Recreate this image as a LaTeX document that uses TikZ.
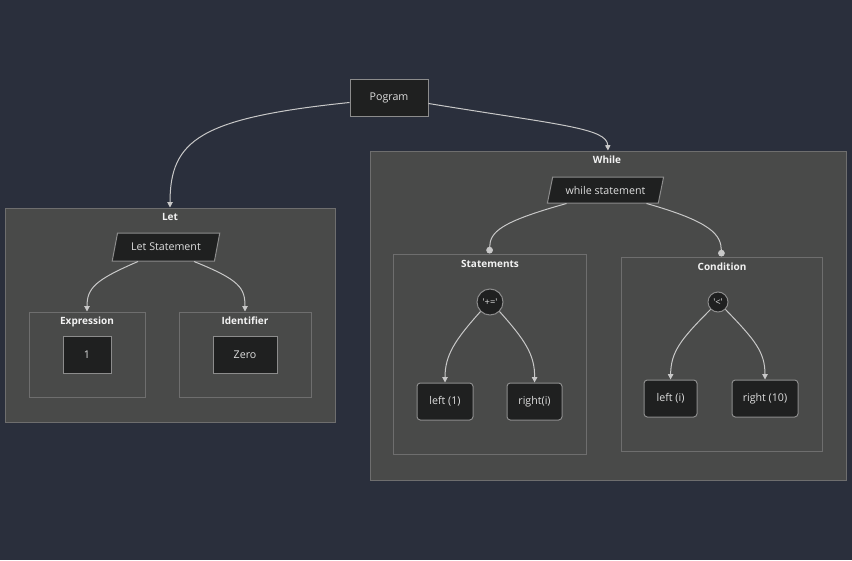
\documentclass[tikz,border=0pt]{standalone}
\usepackage{fontspec}
\setmainfont{Open Sans}
\usetikzlibrary{arrows.meta,shapes.geometric,fit,calc}
\definecolor{bgc}{RGB}{42,47,60}
\definecolor{clfill}{RGB}{73,74,73}
\definecolor{cldraw}{RGB}{110,110,110}
\definecolor{ndfill}{RGB}{31,32,32}
\definecolor{nddraw}{RGB}{140,140,140}
\definecolor{edgec}{RGB}{200,200,200}
\definecolor{txtc}{RGB}{222,222,222}
\definecolor{ttlc}{RGB}{242,242,242}
\tikzset{
  cluster/.style={draw=cldraw,fill=clfill,line width=0.75pt,inner sep=0pt},
  ctitle/.style={text=ttlc,font=\fontsize{7.5}{9}\selectfont\bfseries,inner sep=0pt,anchor=base},
  box/.style={draw=nddraw,fill=ndfill,line width=0.75pt,text=txtc,font=\fontsize{8}{9.5}\selectfont,minimum height=27.75pt,inner sep=0pt},
  rbox/.style={box,rounded corners=2.5pt},
  para/.style={draw=nddraw,fill=ndfill,line width=0.75pt,text=txtc,font=\fontsize{8}{9.5}\selectfont,trapezium,trapezium left angle=64,trapezium right angle=116,trapezium stretches=true,inner sep=0pt},
  circ/.style={circle,draw=nddraw,fill=ndfill,line width=0.75pt,text=txtc,font=\fontsize{7}{8}\selectfont,inner sep=0pt},
  edge/.style={draw=edgec,line width=0.75pt,-{Triangle[width=4pt,length=4pt]}},
  dotedge/.style={draw=edgec,line width=0.75pt,-{Circle[width=5pt,length=5pt]}}
}
\begin{document}
\begin{tikzpicture}[x=0.75pt,y=-0.75pt]
\fill[bgc] (0,0) rectangle (852,560);
\useasboundingbox (0,0) rectangle (852,560);
% clusters
\node[cluster,fit={(5,208) (335,422)}] (let) {};
\node[ctitle] (lettitle) at (170,220) {Let};
\node[cluster,fit={(29,312) (145,397)}] (expression) {};
\node[ctitle] (exprtitle) at (87,324) {Expression};
\node[cluster,fit={(179,312) (311,397)}] (identifier) {};
\node[ctitle] (idtitle) at (245,324) {Identifier};
\node[cluster,fit={(370,151) (846,480)}] (while) {};
\node[ctitle] (whiletitle) at (607,163) {While};
\node[cluster,fit={(393,254) (586,454)}] (statements) {};
\node[ctitle] (sttitle) at (490,267) {Statements};
\node[cluster,fit={(621,257) (822,451)}] (condition) {};
\node[ctitle] (condtitle) at (722,270) {Condition};
% nodes
\node[box,minimum width=58.5pt] (pogram) at (389,97.5) {Pogram};
\node[para,minimum width=81pt,minimum height=21pt] (letstmt) at (166,247) {Let Statement};
\node[box,minimum width=36pt] (one) at (87,354.5) {1};
\node[box,minimum width=48pt] (zero) at (245,354.5) {Zero};
\node[para,minimum width=87.75pt,minimum height=19.5pt] (whilestmt) at (605.5,190) {while statement};
\node[circ,minimum size=19.5pt] (pluseq) at (490,302) {\textquotesingle+=\textquotesingle};
\node[rbox,minimum width=42pt] (left1) at (445,401.5) {left (1)};
\node[rbox,minimum width=41.25pt] (righti) at (534.5,401.5) {right(i)};
\node[circ,minimum size=15pt] (lt) at (718,302) {\textquotesingle<\textquotesingle};
\node[rbox,minimum width=39.75pt] (lefti) at (670.5,398.5) {left (i)};
\node[rbox,minimum width=49.5pt] (right10) at (765,398.5) {right (10)};
% edges
\draw[edge] ($(pogram.west)+(0,5)$) .. controls (200,118) and (170,140) .. (let.north);
\draw[edge] ($(pogram.east)+(0,6)$) .. controls (560,125) and (607,128) .. (while.north);
\draw[edge] ($(letstmt.south)+(-28,0)$) .. controls (95,280) and (87,288) .. (expression.north);
\draw[edge] ($(letstmt.south)+(28,0)$) .. controls (240,280) and (245,288) .. (identifier.north);
\draw[dotedge] ($(whilestmt.south)+(-39,0)$) .. controls (500,222) and (490,232) .. (statements.north);
\draw[dotedge] ($(whilestmt.south)+(41,0)$) .. controls (712,222) and (721,235) .. (condition.north);
\draw[edge] (pluseq.south west) .. controls (455,340) and (445,355) .. (left1.north);
\draw[edge] (pluseq.south east) .. controls (525,340) and (535,355) .. (righti.north);
\draw[edge] (lt.south west) .. controls (680,340) and (671,352) .. (lefti.north);
\draw[edge] (lt.south east) .. controls (755,340) and (765,352) .. (right10.north);
\end{tikzpicture}
\end{document}
